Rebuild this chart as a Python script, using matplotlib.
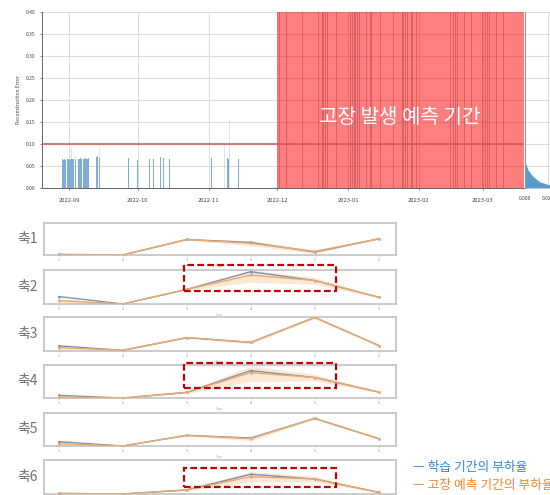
import numpy as np
import pandas as pd
import matplotlib
matplotlib.use("Agg")
import matplotlib.pyplot as plt
import matplotlib.dates as mdates
from matplotlib.patches import Rectangle

plt.rcParams['font.family'] = ['Noto Sans CJK KR', 'DejaVu Sans']

# ---- 상단: 재구성 오차 ----
train_times = ['2022-08-29 00:00', '2022-08-29 12:00', '2022-08-30 00:00', '2022-08-30 12:00',
               '2022-08-31 00:00', '2022-08-31 12:00', '2022-09-01 00:00', '2022-09-01 12:00',
               '2022-09-02 00:00', '2022-09-02 12:00', '2022-09-03 00:00', '2022-09-03 12:00',
               '2022-09-05 00:00', '2022-09-05 12:00', '2022-09-06 00:00', '2022-09-06 12:00',
               '2022-09-07 00:00', '2022-09-07 12:00', '2022-09-08 00:00', '2022-09-08 12:00',
               '2022-09-09 00:00', '2022-09-09 12:00',
               '2022-09-13 00:00', '2022-09-13 12:00', '2022-09-14 00:00',
               '2022-09-27 00:00', '2022-10-01 00:00', '2022-10-06 00:00', '2022-10-08 00:00',
               '2022-10-11 00:00', '2022-10-12 00:00', '2022-10-15 00:00',
               '2022-11-02 00:00', '2022-11-09 00:00', '2022-11-09 12:00', '2022-11-14 00:00']
train_err = [0.065, 0.064, 0.066, 0.063, 0.065, 0.066, 0.064, 0.067, 0.066, 0.065, 0.067, 0.066,
             0.067, 0.066, 0.068, 0.065, 0.067, 0.066, 0.068, 0.067,
             0.066, 0.068,
             0.070, 0.072, 0.069,
             0.068, 0.064, 0.065, 0.066,
             0.070, 0.068, 0.066,
             0.068, 0.068, 0.066, 0.067]
faint_times = ['2022-09-02', '2022-09-14', '2022-10-12', '2022-11-08', '2022-11-10']
faint_err = [0.09, 0.09, 0.33, 0.10, 0.155]

fault_times = ['2022-12-02', '2022-12-05', '2022-12-12', '2022-12-19', '2022-12-21', '2022-12-22',
               '2022-12-23', '2022-12-27', '2023-01-02', '2023-01-03', '2023-01-04', '2023-01-05',
               '2023-01-06', '2023-01-09', '2023-01-11', '2023-01-15', '2023-01-21', '2023-01-25',
               '2023-01-26', '2023-01-27', '2023-01-29', '2023-01-31', '2023-02-15', '2023-02-16',
               '2023-02-17', '2023-02-18', '2023-02-21', '2023-02-24', '2023-03-01', '2023-03-02',
               '2023-03-03', '2023-03-04', '2023-03-07', '2023-03-10']
fault_err = [0.5] * len(fault_times)

threshold = 0.10
x_start, fault_start, x_end = '2022-08-20', '2022-12-01', '2023-03-19'

hist_err = [0.0, 0.007, 0.014, 0.026, 0.041, 0.06]
hist_density = [0.030, 0.027, 0.016, 0.0087, 0.0033, 0.0]

# ---- 하단: 축별 부하율 ----
steps = [1, 2, 3, 4, 5, 6]
axis_names = ['축1', '축2', '축3', '축4', '축5', '축6']
train_load = [[0.02, 0.0, 0.48, 0.39, 0.09, 0.50],
              [0.22, 0.0, 0.43, 0.95, 0.69, 0.20],
              [0.15, 0.02, 0.39, 0.25, 0.98, 0.16],
              [0.08, 0.0, 0.17, 0.83, 0.62, 0.18],
              [0.13, 0.0, 0.32, 0.24, 0.83, 0.22],
              [0.02, 0.0, 0.12, 0.58, 0.44, 0.05]]
fault_load = [[0.01, 0.0, 0.48, 0.36, 0.11, 0.50],
              [0.10, 0.0, 0.43, 0.85, 0.69, 0.20],
              [0.10, 0.02, 0.39, 0.25, 0.98, 0.16],
              [0.03, 0.0, 0.17, 0.77, 0.62, 0.18],
              [0.07, 0.0, 0.32, 0.22, 0.83, 0.22],
              [0.01, 0.0, 0.12, 0.51, 0.44, 0.05]]
fault_lo = [[0.0, 0.0, 0.46, 0.28, 0.05, 0.49],
            [0.04, 0.0, 0.41, 0.64, 0.58, 0.18],
            [0.06, 0.01, 0.37, 0.21, 0.94, 0.14],
            [0.0, 0.0, 0.14, 0.50, 0.52, 0.16],
            [0.03, 0.0, 0.30, 0.16, 0.80, 0.20],
            [0.0, 0.0, 0.10, 0.36, 0.36, 0.03]]
fault_hi = [[0.03, 0.01, 0.50, 0.44, 0.16, 0.51],
            [0.16, 0.01, 0.46, 1.0, 0.78, 0.22],
            [0.14, 0.03, 0.41, 0.30, 1.0, 0.18],
            [0.07, 0.01, 0.20, 0.96, 0.72, 0.20],
            [0.11, 0.01, 0.34, 0.28, 0.86, 0.24],
            [0.03, 0.01, 0.14, 0.66, 0.52, 0.07]]
# 빨간 점선 박스: (축 번호, x0, x1, y0, y1)
boxes = [(1, 2.95, 5.33, 0.39, 1.15), (3, 2.95, 5.33, 0.30, 1.06), (5, 2.95, 5.33, 0.21, 0.77)]

W, H = 550, 495
fig = plt.figure(figsize=(5.5, 4.95), dpi=100)


def frac(x0, y0, x1, y1):
    return [x0 / W, 1 - y1 / H, (x1 - x0) / W, (y1 - y0) / H]


ax = fig.add_axes(frac(42, 12, 524, 188))
ax.bar(pd.to_datetime(faint_times), faint_err, width=0.35, color='#a9c6de', alpha=0.45, lw=0, zorder=2)
ax.bar(pd.to_datetime(train_times), train_err, width=0.45, color='#7eaed3', lw=0, zorder=3)
ax.bar(pd.to_datetime(fault_times), fault_err, width=0.5, color='#5a7fa0', alpha=0.45, lw=0, zorder=3)
ax.axvspan(pd.Timestamp(fault_start), pd.Timestamp(x_end), color='red', alpha=0.5, lw=0, zorder=4)
ax.axhline(threshold, color='#e05050', lw=1.4, alpha=0.8, zorder=5)
ax.text(0.743, 0.40, '고장 발생 예측 기간', transform=ax.transAxes, color='white',
        fontsize=14.5, ha='center', va='center', zorder=6)
ax.set_xlim(pd.Timestamp(x_start), pd.Timestamp(x_end))
ax.set_ylim(0, 0.40)
ax.set_yticks(np.arange(0, 0.401, 0.05))
ax.yaxis.set_major_formatter(plt.FormatStrFormatter('%.2f'))
ax.xaxis.set_major_locator(mdates.MonthLocator())
ax.xaxis.set_major_formatter(mdates.DateFormatter('%Y-%m'))
ax.tick_params(labelsize=3.6, colors='#444444', length=1.5, width=0.5)
ax.tick_params(axis='x', labelsize=4.2, pad=6)
ax.set_ylabel('Reconstruction Error', fontsize=3.6, color='#444444', labelpad=3)
ax.grid(True, color='#dcdcdc', lw=0.8)
ax.set_axisbelow(True)
for s in ['top', 'right']:
    ax.spines[s].set_visible(False)
for s in ['left', 'bottom']:
    ax.spines[s].set_color('#666666')
    ax.spines[s].set_linewidth(0.7)

axh = fig.add_axes(frac(525, 12, 571, 188))
axh.fill_betweenx(hist_err, 0, hist_density, color='#5b9bc9', lw=0)
axh.set_xlim(0, 0.05)
axh.set_ylim(0, 0.40)
axh.set_xticks([0, 0.025])
axh.xaxis.set_major_formatter(plt.FormatStrFormatter('%.3f'))
axh.set_yticks(np.arange(0, 0.401, 0.05))
axh.tick_params(labelsize=3.6, colors='#444444', length=0, left=False, labelleft=False, pad=6)
axh.grid(True, color='#dcdcdc', lw=0.8)
axh.set_axisbelow(True)
for s in axh.spines.values():
    s.set_visible(False)
axh.spines['left'].set_visible(True)
axh.spines['left'].set_color('#999999')

tops = [222.7, 270, 316.7, 365, 412.7, 460]
bottoms = [255, 304, 351, 398, 446, 494]
small_axes = []
for i in range(6):
    a = fig.add_axes(frac(44, tops[i], 396, bottoms[i]))
    a.fill_between(steps, fault_lo[i], fault_hi[i], color='#f9c9a0', alpha=0.45, lw=0, zorder=1)
    a.plot(steps, train_load[i], color='#7d93ad', lw=1.0, marker='o', ms=0.8, zorder=2)
    a.plot(steps, fault_load[i], color='#eaaa6e', lw=1.0, marker='o', ms=0.8, zorder=3)
    a.set_xlim(0.77, 6.27)
    a.set_ylim(0, 1.0)
    a.set_xticks(steps)
    a.set_yticks([])
    a.tick_params(labelsize=2.5, colors='#888888', length=1, width=0.4, pad=1.5)
    if i < 5:
        a.set_xlabel('Step', fontsize=2.5, color='#aaaaaa', labelpad=1)
    else:
        a.tick_params(labelbottom=False)
    for s in a.spines.values():
        s.set_color('#bdbdbd')
        s.set_linewidth(1.1)
    fig.text(28 / W, 1 - (tops[i] + bottoms[i]) / 2 / H, axis_names[i], fontsize=10,
             color='#707070', ha='center', va='center')
    small_axes.append(a)

for idx, x0, x1, y0, y1 in boxes:
    small_axes[idx].add_patch(Rectangle((x0, y0), x1 - x0, y1 - y0, fill=False,
                                        edgecolor='#c00000', lw=1.6, ls=(0, (3, 1.5)),
                                        clip_on=False, zorder=10))

fig.text(413 / W, 1 - 467 / H, 'ㅡ 학습 기간의 부하율', fontsize=9.2, color='#2e86de', va='center')
fig.text(413 / W, 1 - 485 / H, 'ㅡ 고장 예측 기간의 부하율', fontsize=9.2, color='#f5842a', va='center')

fig.savefig('out.png', dpi=100)
